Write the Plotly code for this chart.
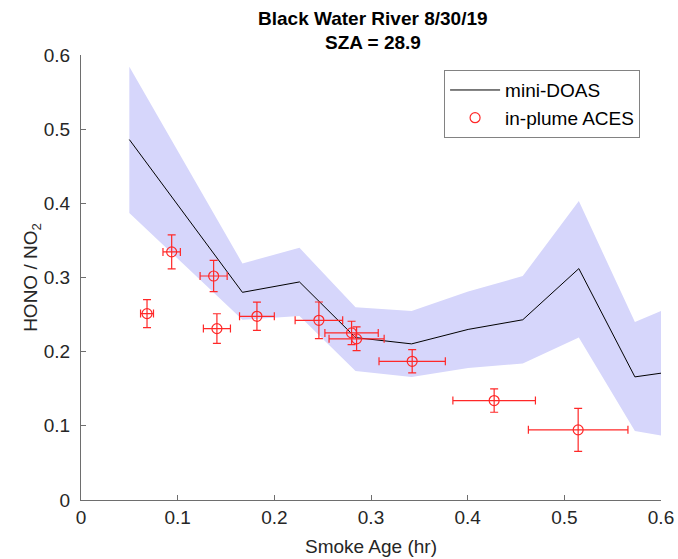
import plotly.graph_objects as go

# mini-DOAS line and uncertainty band
doas_x = [0.05, 0.167, 0.226, 0.284, 0.342, 0.4005, 0.457, 0.515, 0.573, 0.6]
doas_y = [0.486, 0.280, 0.294, 0.219, 0.2105, 0.230, 0.243, 0.312, 0.166, 0.171]
doas_hi = [0.584, 0.319, 0.340, 0.260, 0.255, 0.281, 0.302, 0.403, 0.240, 0.255]
doas_lo = [0.387, 0.243, 0.248, 0.174, 0.166, 0.178, 0.184, 0.219, 0.093, 0.087]

# in-plume ACES points
aces_x = [0.0683, 0.0938, 0.1372, 0.1406, 0.182, 0.2461, 0.2799, 0.2851, 0.3426, 0.4274, 0.5143]
aces_y = [0.2513, 0.3345, 0.302, 0.2311, 0.2477, 0.2423, 0.2253, 0.2173, 0.187, 0.1341, 0.0946]
aces_xerr = [0.0067, 0.009, 0.014, 0.014, 0.018, 0.0246, 0.0276, 0.0285, 0.0343, 0.0427, 0.0515]
aces_yerr = [0.019, 0.023, 0.021, 0.020, 0.019, 0.0247, 0.0157, 0.016, 0.0157, 0.0158, 0.029]

x_ticks = [0, 0.1, 0.2, 0.3, 0.4, 0.5, 0.6]
y_ticks = [0, 0.1, 0.2, 0.3, 0.4, 0.5, 0.6]
tick_text = ['0', '0.1', '0.2', '0.3', '0.4', '0.5', '0.6']

title_lines = ['Black Water River 8/30/19', 'SZA = 28.9']

FONT = 'Liberation Sans, Arial, sans-serif'
RED = 'rgb(255,40,40)'

fig = go.Figure()
fig.add_trace(go.Scatter(
    x=doas_x + doas_x[::-1], y=doas_hi + doas_lo[::-1],
    fill='toself', fillcolor='rgb(214,214,251)', line=dict(width=0),
    mode='lines', showlegend=False, hoverinfo='skip'))
fig.add_trace(go.Scatter(
    x=doas_x, y=doas_y, mode='lines', name='mini-DOAS',
    line=dict(color='black', width=1)))
fig.add_trace(go.Scatter(
    x=aces_x, y=aces_y, mode='markers', name='in-plume ACES',
    marker=dict(symbol='circle-open', size=10, color=RED, line=dict(width=1.2)),
    error_x=dict(type='data', array=aces_xerr, color=RED, thickness=1.2, width=4),
    error_y=dict(type='data', array=aces_yerr, color=RED, thickness=1.2, width=4)))

axis_common = dict(
    showline=True, linecolor='rgb(110,110,110)', linewidth=1,
    ticks='inside', ticklen=5, tickcolor='rgb(110,110,110)',
    showgrid=False, zeroline=False, mirror=False, automargin=False,
    tickfont=dict(family=FONT, size=19, color='rgb(38,38,38)'),
)

fig.update_layout(
    width=678, height=559,
    margin=dict(l=81, r=17, t=55, b=58.5),
    paper_bgcolor='white', plot_bgcolor='white',
    font=dict(family=FONT, color='rgb(38,38,38)'),
    xaxis=dict(range=[0, 0.6], tickvals=x_ticks, ticktext=tick_text,
               title=dict(text='Smoke Age (hr)', standoff=12, font=dict(size=19)), **axis_common),
    yaxis=dict(range=[0, 0.6], tickvals=y_ticks, ticktext=tick_text, ticklabelstandoff=6,
               title=dict(text='HONO / NO<sub>2</sub>', standoff=0, font=dict(size=19)), **axis_common),
    legend=dict(x=0.626, y=0.966, xanchor='left', yanchor='top',
                bgcolor='white', bordercolor='rgb(130,130,130)', borderwidth=1,
                font=dict(size=19, color='black'), tracegroupgap=0, itemwidth=50),
    showlegend=True,
    annotations=[
        dict(text='<b>%s</b>' % title_lines[0], x=0.5034, y=1.0824, xref='paper', yref='paper',
             xanchor='center', yanchor='middle', showarrow=False,
             font=dict(family=FONT, size=19, color='black')),
        dict(text='<b>%s</b>' % title_lines[1], x=0.5034, y=1.0276, xref='paper', yref='paper',
             xanchor='center', yanchor='middle', showarrow=False,
             font=dict(family=FONT, size=19, color='black')),
    ],
)

# remove the default page margin so the figure fills the window exactly; hide the modebar
fig.write_html('out.html', config={'displayModeBar': False},
               post_script="document.body.style.margin='0';document.body.style.overflow='hidden';")
